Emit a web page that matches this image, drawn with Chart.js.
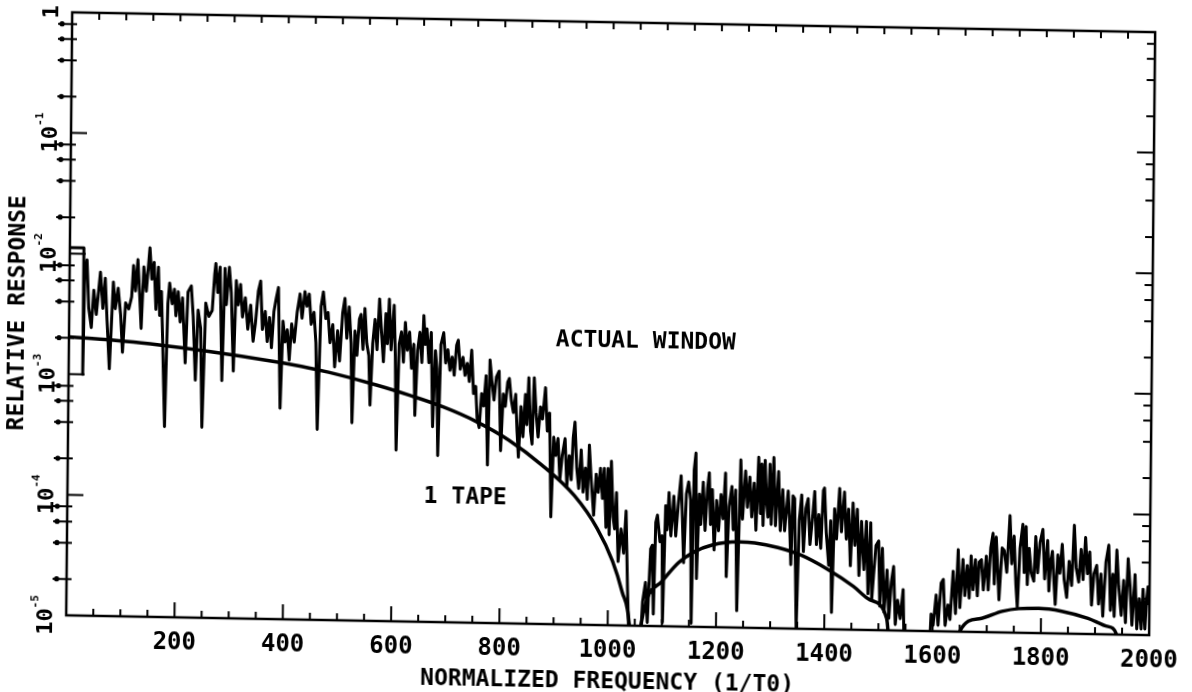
<!DOCTYPE html>
<html>
<head>
<meta charset="utf-8">
<title>Relative response vs normalized frequency</title>
<script src="https://cdn.jsdelivr.net/npm/chart.js@4.4.1/dist/chart.umd.min.js"></script>
<style>
  html, body { margin: 0; padding: 0; background: #fff; overflow: hidden; }
  /* the plotter sheet sits a little askew */
  #windowChart {
    display: block;
    transform-origin: 596px 346px;
    transform: matrix(1, 0.0183, -0.010, 1, 0, 0);
  }
</style>
</head>
<body>
<canvas id="windowChart" width="1192" height="692"></canvas>
<script>
// Frequency axis tick labels and minor tick spacing
const freqLabels = [200, 400, 600, 800, 1000, 1200, 1400, 1600, 1800, 2000];
const freqMinorStep = 50;

// Response axis: labelled decades (exponents) and minor tick mantissas
const decadeExps = [0, -1, -2, -3, -4, -5];
const minorMantissas = [2, 4, 6, 8];

// Text written on the plot
const noteLabels = ['ACTUAL WINDOW', '1 TAPE'];
const noteFreqs = [899, 658];
const noteLevels = [-2.63, -3.95]; // log10 of response

// Actual window, [frequency, log10 response]
const actualWindow = [
  [0,-1.95],[26,-1.95],[26,-3.0],[28,-2.2],[32,-2.05],[36,-2.45],[41,-2.61],[45,-2.3],[50,-2.5],[57,-2.15],
  [62,-2.45],[66,-2.2],[70,-2.55],[75,-2.95],[81,-2.23],[85,-2.45],[90,-2.28],[95,-2.5],[99,-2.81],[104,-2.4],
  [110,-2.45],[115,-2.35],[118,-2.09],[122,-2.3],[126,-2.04],[130,-2.35],[133,-2.61],[137,-2.1],[142,-2.3],[148,-1.94],
  [152,-2.2],[156,-2.06],[160,-2.45],[164,-2.1],[167,-2.5],[170,-2.3],[173,-2.7],[178,-3.42],[182,-2.4],[185,-2.23],
  [190,-2.4],[194,-2.28],[197,-2.5],[201,-2.3],[205,-2.55],[209,-2.35],[215,-2.89],[219,-2.3],[225,-2.25],[229,-2.5],
  [234,-3.03],[238,-2.45],[243,-2.6],[247,-3.42],[252,-2.39],[258,-2.5],[264,-2.45],[268,-2.15],[270,-2.06],[274,-2.3],
  [278,-2.09],[283,-3.03],[287,-2.1],[290,-2.4],[295,-2.09],[299,-2.3],[304,-2.95],[308,-2.2],[312,-2.4],[316,-2.23],
  [320,-2.5],[325,-2.34],[330,-2.6],[335,-2.4],[340,-2.7],[344,-2.55],[349,-2.28],[353,-2.2],[357,-2.6],[362,-2.45],
  [366,-2.7],[370,-2.5],[374,-2.75],[378,-2.45],[382,-2.34],[386,-2.25],[391,-3.25],[395,-2.53],[399,-2.7],[403,-2.6],
  [407,-2.85],[411,-2.55],[416,-2.7],[421,-2.45],[426,-2.3],[430,-2.5],[435,-2.28],[439,-2.4],[443,-2.3],[447,-2.55],
  [452,-2.45],[456,-2.7],[460,-3.42],[465,-2.4],[469,-2.28],[474,-2.5],[478,-2.45],[482,-2.7],[487,-2.55],[491,-2.9],
  [496,-2.6],[500,-2.85],[505,-2.45],[509,-2.33],[513,-2.66],[517,-2.4],[521,-2.7],[524,-3.36],[528,-2.6],[532,-2.8],
  [536,-2.5],[539,-2.46],[543,-2.75],[546,-2.41],[550,-2.7],[554,-2.8],[557,-3.21],[561,-2.7],[565,-2.5],[569,-2.75],
  [573,-2.33],[577,-2.6],[581,-2.85],[585,-2.45],[588,-2.7],[591,-2.33],[595,-2.75],[600,-2.38],[603,-2.8],[606,-3.58],
  [610,-2.7],[614,-2.6],[618,-2.85],[621,-2.52],[625,-2.75],[629,-2.6],[633,-2.9],[637,-2.7],[640,-3.29],[644,-2.75],
  [648,-2.6],[652,-2.85],[655,-2.46],[658,-2.7],[661,-2.57],[665,-2.85],[669,-2.6],[673,-3.38],[677,-2.75],[680,-2.9],
  [683,-3.62],[687,-2.7],[692,-2.6],[696,-2.85],[700,-2.74],[704,-2.91],[708,-2.8],[712,-2.95],[716,-2.7],[719,-2.66],
  [723,-2.9],[728,-2.8],[732,-2.95],[736,-2.85],[740,-3.0],[744,-2.74],[748,-3.1],[752,-3.04],[755,-3.3],[759,-3.38],
  [763,-3.1],[767,-3.2],[771,-2.95],[775,-3.69],[778,-2.82],[782,-3.0],[786,-3.15],[790,-2.96],[795,-2.91],[799,-3.57],
  [803,-3.1],[807,-3.2],[811,-3.0],[814,-2.97],[818,-3.15],[822,-3.25],[826,-3.1],[829,-3.4],[832,-3.62],[836,-3.2],
  [840,-3.45],[844,-3.1],[847,-3.35],[850,-2.96],[854,-3.4],[857,-3.51],[860,-2.96],[864,-3.25],[868,-3.45],[872,-3.2],
  [876,-3.3],[881,-3.04],[885,-3.4],[889,-3.25],[893,-4.11],[897,-3.45],[901,-3.6],[905,-3.46],[909,-3.8],[913,-3.6],
  [918,-3.46],[922,-3.85],[926,-3.6],[930,-3.8],[933,-3.45],[936,-3.32],[940,-3.7],[944,-3.87],[948,-3.55],[952,-3.9],
  [956,-3.7],[960,-3.96],[963,-3.51],[967,-3.8],[972,-4.09],[976,-3.75],[980,-3.9],[984,-3.7],[988,-3.95],[991,-3.7],
  [995,-4.19],[998,-3.7],[1001,-4.25],[1004,-3.64],[1008,-4.1],[1011,-4.2],[1014,-3.9],[1018,-4.47],[1023,-4.2],[1028,-4.4],
  [1032,-4.05],[1036,-4.7],[1040,-5.2],[1050,-5.3],[1060,-5.2],[1064,-4.8],[1069,-4.64],[1073,-4.97],[1078,-4.36],[1081,-4.33],
  [1084,-4.9],[1087,-4.14],[1090,-4.08],[1095,-4.3],[1099,-4.25],[1101,-4.97],[1105,-4.0],[1108,-4.2],[1111,-3.89],[1115,-4.25],
  [1120,-3.92],[1124,-4.25],[1128,-4.0],[1133,-3.75],[1136,-4.1],[1139,-4.47],[1143,-3.9],[1147,-3.8],[1151,-3.95],[1154,-4.97],
  [1157,-3.7],[1160,-3.56],[1163,-4.6],[1167,-3.9],[1170,-4.15],[1174,-3.8],[1178,-4.2],[1182,-3.85],[1185,-3.72],[1188,-4.15],
  [1191,-3.86],[1195,-4.36],[1199,-3.95],[1203,-4.2],[1207,-3.9],[1211,-4.1],[1215,-3.72],[1218,-4.58],[1222,-4.0],[1227,-3.83],
  [1230,-4.19],[1234,-3.86],[1238,-4.86],[1243,-3.61],[1247,-4.1],[1252,-3.7],[1256,-4.0],[1260,-3.75],[1264,-4.08],[1268,-3.8],
  [1272,-4.19],[1276,-3.585],[1280,-4.05],[1282,-3.64],[1285,-4.15],[1288,-3.61],[1291,-3.95],[1294,-4.08],[1297,-3.64],[1300,-4.14],
  [1304,-3.585],[1308,-4.15],[1313,-3.7],[1317,-4.19],[1321,-3.85],[1325,-4.19],[1331,-3.86],[1334,-4.1],[1337,-4.47],[1340,-3.9],
  [1343,-3.92],[1348,-5.0],[1352,-4.1],[1356,-3.89],[1360,-4.36],[1364,-4.0],[1368,-3.92],[1372,-4.3],[1376,-4.1],[1380,-3.86],
  [1384,-4.3],[1388,-4.05],[1392,-4.33],[1396,-3.85],[1398,-3.83],[1402,-4.2],[1407,-4.47],[1410,-4.1],[1413,-4.86],[1417,-4.0],
  [1421,-4.25],[1426,-3.83],[1430,-4.19],[1435,-3.86],[1439,-4.25],[1443,-4.0],[1447,-4.47],[1451,-3.95],[1455,-4.3],[1459,-4.0],
  [1463,-4.55],[1467,-4.1],[1472,-4.5],[1476,-4.1],[1480,-4.7],[1484,-4.11],[1487,-4.75],[1490,-4.55],[1494,-4.3],[1499,-4.26],
  [1502,-4.8],[1506,-4.32],[1510,-4.85],[1515,-4.5],[1519,-4.9],[1523,-4.6],[1527,-4.47],[1531,-4.95],[1535,-4.75],[1540,-4.9],
  [1545,-4.66],[1548,-5.2],[1570,-5.3],[1594,-5.2],[1597,-4.86],[1601,-4.95],[1606,-4.7],[1610,-4.95],[1615,-4.6],[1619,-4.57],
  [1623,-4.95],[1628,-4.78],[1632,-4.9],[1637,-4.5],[1642,-4.85],[1646,-4.32],[1650,-4.8],[1655,-4.4],[1659,-4.7],[1663,-4.45],
  [1667,-4.72],[1670,-4.37],[1674,-4.65],[1678,-4.4],[1682,-4.7],[1685,-4.42],[1689,-4.4],[1693,-4.65],[1698,-4.37],[1702,-4.65],
  [1706,-4.3],[1710,-4.18],[1713,-4.6],[1716,-4.21],[1720,-4.55],[1722,-4.73],[1727,-4.3],[1731,-4.32],[1736,-4.5],[1741,-4.03],
  [1745,-4.43],[1749,-4.2],[1753,-4.6],[1756,-4.79],[1760,-4.3],[1765,-4.1],[1768,-4.5],[1771,-4.12],[1774,-4.6],[1777,-4.3],
  [1781,-4.5],[1786,-4.57],[1789,-4.2],[1793,-4.5],[1797,-4.25],[1802,-4.14],[1806,-4.55],[1811,-4.23],[1814,-4.65],[1817,-4.4],
  [1820,-4.32],[1823,-4.55],[1826,-4.76],[1830,-4.35],[1834,-4.5],[1838,-4.26],[1842,-4.55],[1847,-4.7],[1851,-4.4],[1856,-4.6],
  [1860,-4.1],[1864,-4.45],[1869,-4.57],[1873,-4.3],[1877,-4.55],[1881,-4.2],[1885,-4.5],[1889,-4.32],[1893,-4.76],[1897,-4.5],
  [1902,-4.43],[1906,-4.75],[1910,-4.5],[1914,-4.85],[1919,-4.4],[1924,-4.26],[1928,-4.8],[1932,-4.5],[1935,-4.85],[1939,-4.3],
  [1943,-4.6],[1948,-4.84],[1952,-4.55],[1956,-4.9],[1960,-4.37],[1964,-4.6],[1968,-4.92],[1973,-4.5],[1977,-4.95],[1981,-4.7],
  [1985,-4.95],[1988,-4.62],[1992,-4.95],[1995,-4.7],[1997,-4.6],[2000,-4.75]
];

// Single tape window, [frequency, log10 response]; the nulls dip below the axis
const oneTape = [
  [0,-2.69],[105,-2.72],[167,-2.745],[258,-2.79],[319,-2.825],[380,-2.865],[441,-2.91],[480,-2.945],
  [570,-3.045],[631,-3.125],[692,-3.215],[753,-3.33],[814,-3.48],[875,-3.68],[936,-3.93],[979,-4.2],[1008,-4.47],
  [1026,-4.72],[1040,-5.0],[1050,-5.8],[1062,-4.98],[1099,-4.63],[1130,-4.47],[1160,-4.375],[1191,-4.32],[1240,-4.29],
  [1270,-4.295],[1313,-4.33],[1356,-4.39],[1404,-4.5],[1453,-4.64],[1484,-4.75],[1515,-4.9],[1530,-5.7],[1640,-5.7],
  [1650,-5.0],[1686,-4.89],[1728,-4.825],[1759,-4.8],[1796,-4.795],[1838,-4.815],[1887,-4.87],[1924,-4.935],[1940,-5.0],
  [1950,-5.7],[2000,-5.7]
];

const ink = '#000';
const mono = '"DejaVu Sans Mono", "Liberation Mono", monospace';
const toPoints = rows => rows.map(([f, lg]) => ({ x: f, y: 10 ** lg }));

// Frame, plotter style tick marks, decade labels and the notes
const plotterAxes = {
  id: 'plotterAxes',
  afterDatasetsDraw(chart) {
    const { ctx, chartArea: a, scales: { x, y } } = chart;
    ctx.save();
    ctx.strokeStyle = ink;
    ctx.fillStyle = ink;

    ctx.lineWidth = 2.5;
    ctx.strokeRect(a.left, a.top, a.right - a.left, a.bottom - a.top);

    // frequency ticks: long ones at the labelled values on the bottom edge
    ctx.lineWidth = 2;
    ctx.beginPath();
    for (let f = freqMinorStep; f < x.max; f += freqMinorStep) {
      const px = x.getPixelForValue(f);
      ctx.moveTo(px, a.bottom);
      ctx.lineTo(px, a.bottom - (freqLabels.includes(f) ? 15 : 7));
      ctx.moveTo(px, a.top);
      ctx.lineTo(px, a.top + 7);
    }
    ctx.stroke();

    // response ticks
    decadeExps.forEach(e => {
      const py = y.getPixelForValue(10 ** e);
      if (e < 0 && e > -5) {
        ctx.beginPath();
        ctx.moveTo(a.left, py); ctx.lineTo(a.left + 16, py);
        ctx.moveTo(a.right, py); ctx.lineTo(a.right - 17, py);
        ctx.stroke();
      }
      if (e === -5) return;
      minorMantissas.forEach(m => {
        const pm = y.getPixelForValue(m * 10 ** (e - 1));
        ctx.beginPath();
        ctx.moveTo(a.left - 14, pm); ctx.lineTo(a.left + 5, pm);
        ctx.moveTo(a.right, pm); ctx.lineTo(a.right - 8, pm);
        ctx.stroke();
        ctx.beginPath();
        ctx.arc(a.left - 10, pm, 2.6, 0, Math.PI * 2);
        ctx.fill();
      });
    });

    // decade labels, written upward with a raised exponent
    decadeExps.forEach(e => {
      const py = y.getPixelForValue(10 ** e);
      const base = e === 0 ? '1' : '10';
      const exp = e === 0 ? '' : String(e);
      ctx.save();
      ctx.translate(a.left - 14, py);
      ctx.rotate(-Math.PI / 2);
      ctx.textBaseline = 'alphabetic';
      ctx.textAlign = 'left';
      ctx.font = `bold 22px ${mono}`;
      const wb = ctx.measureText(base).width;
      ctx.font = `bold 11px ${mono}`;
      const we = ctx.measureText(exp).width;
      const start = -(wb + we) / 2;
      ctx.font = `bold 22px ${mono}`;
      ctx.fillText(base, start, 0);
      ctx.font = `bold 11px ${mono}`;
      ctx.fillText(exp, start + wb, -14);
      ctx.restore();
    });

    // notes
    ctx.font = `bold 23px ${mono}`;
    ctx.textBaseline = 'middle';
    ctx.textAlign = 'left';
    noteLabels.forEach((t, i) => {
      ctx.fillText(t, x.getPixelForValue(noteFreqs[i]), y.getPixelForValue(10 ** noteLevels[i]) + 1.5);
    });
    ctx.restore();
  }
};

new Chart(document.getElementById('windowChart'), {
  type: 'line',
  data: {
    datasets: [
      {
        label: 'Actual window',
        data: toPoints(actualWindow),
        borderColor: ink,
        borderWidth: 3,
        borderJoinStyle: 'round',
        pointRadius: 0,
        tension: 0
      },
      {
        label: '1 tape',
        data: toPoints(oneTape),
        borderColor: ink,
        borderWidth: 3.5,
        pointRadius: 0,
        cubicInterpolationMode: 'monotone'
      }
    ]
  },
  options: {
    responsive: false,
    animation: false,
    devicePixelRatio: 1,
    layout: { padding: { top: 22, right: 31, bottom: 0, left: 0 } },
    plugins: {
      legend: { display: false },
      tooltip: { enabled: false }
    },
    scales: {
      x: {
        type: 'linear',
        min: 0,
        max: 2000,
        grid: { display: false, drawTicks: false },
        border: { display: false },
        ticks: {
          stepSize: 200,
          autoSkip: false,
          maxRotation: 0,
          padding: 11,
          color: ink,
          font: { family: mono, size: 24, weight: 'bold' },
          callback: v => freqLabels.includes(v) ? String(v) : ''
        },
        title: {
          display: true,
          text: 'NORMALIZED FREQUENCY (1/T0)',
          color: ink,
          font: { family: mono, size: 23, weight: 'bold', lineHeight: 0.9 },
          padding: 0
        },
        afterFit: s => { s.height = 67; }
      },
      y: {
        type: 'logarithmic',
        min: 1e-5,
        max: 1,
        grid: { display: false, drawTicks: false },
        border: { display: false },
        ticks: { display: false },
        title: {
          display: true,
          text: 'RELATIVE RESPONSE',
          color: ink,
          font: { family: mono, size: 23, weight: 'bold', lineHeight: 1 },
          padding: { top: 7, bottom: 0 }
        },
        afterFit: s => { s.width = 69; }
      }
    }
  },
  plugins: [plotterAxes]
});
</script>
</body>
</html>
